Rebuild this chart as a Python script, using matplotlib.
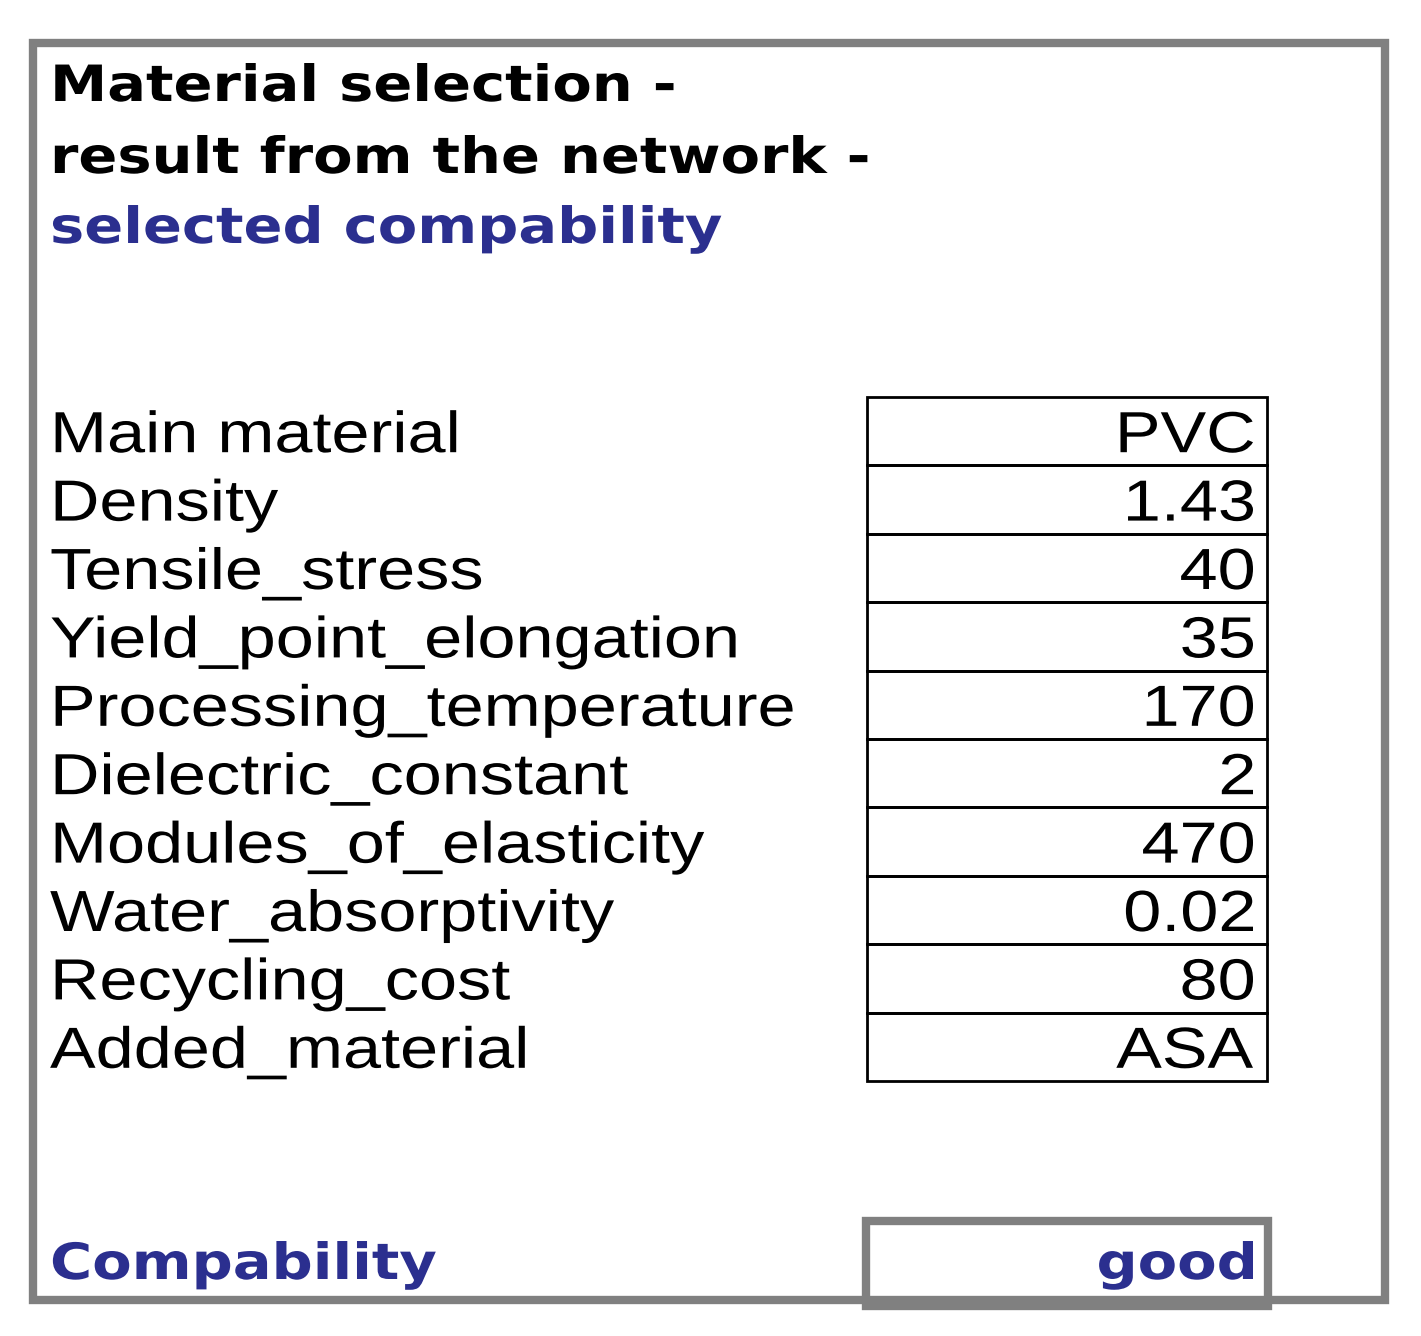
import matplotlib.pyplot as plt
from matplotlib.patches import Rectangle, PathPatch
from matplotlib.textpath import TextPath
from matplotlib.font_manager import FontProperties
from matplotlib.transforms import Affine2D

# Inhalt der Tabelle
labels = ["Main material", "Density", "Tensile_stress", "Yield_point_elongation",
          "Processing_temperature", "Dielectric_constant", "Modules_of_elasticity",
          "Water_absorptivity", "Recycling_cost", "Added_material"]
values = ["PVC", "1.43", "40", "35", "170", "2", "470", "0.02", "80", "ASA"]
result_label = "Compability"
result_value = "good"

W, H = 1421, 1336
fig = plt.figure(figsize=(W / 100, H / 100), dpi=100)
ax = fig.add_axes([0, 0, 1, 1])
ax.set_xlim(0, W)
ax.set_ylim(H, 0)
ax.axis("off")

navy = "#2b2f8f"
grey = "#808080"
reg = FontProperties(family="Liberation Sans")
bold = FontProperties(family="DejaVu Sans", weight="bold")


def breit_text(x, y, s, prop, size, sx, color="black", ha="left"):
    # Text als Pfad, horizontal gestreckt wie im Original
    tp = TextPath((0, 0), s, size=size, prop=prop)
    ext = tp.get_extents()
    w = ext.x1 * sx
    if ha == "right":
        x = x - w
    tr = Affine2D().scale(sx, -1).translate(x, y)
    ax.add_patch(PathPatch(tr.transform_path(tp), fc=color, ec="none"))


# Rahmen aussen
ax.add_patch(Rectangle((33, 43), 1352, 1257, fill=False, ec=grey, lw=6))

breit_text(50, 101, "Material selection -", bold, 50, 1.15)
breit_text(50, 173, "result from the network -", bold, 50, 1.15)
breit_text(50, 243, "selected compability", bold, 50, 1.15, color=navy)

top = 397
row_h = 68.4
x0, x1 = 867, 1267
for i, (lab, val) in enumerate(zip(labels, values)):
    y = top + i * row_h
    ax.add_patch(Rectangle((x0, y), x1 - x0, row_h, fill=False, ec="black", lw=2))
    breit_text(50, y + row_h / 2 + 21, lab, reg, 58, 1.18)
    breit_text(x1 - 14, y + row_h / 2 + 21, val, reg, 58, 1.18, ha="right")

# Ergebnis
ax.add_patch(Rectangle((866, 1221), 402, 85, fill=False, ec=grey, lw=6))
breit_text(50, 1279, result_label, bold, 50, 1.15, color=navy)
breit_text(1253, 1279, result_value, bold, 50, 1.15, color=navy, ha="right")

fig.savefig("out.png", dpi=100)
